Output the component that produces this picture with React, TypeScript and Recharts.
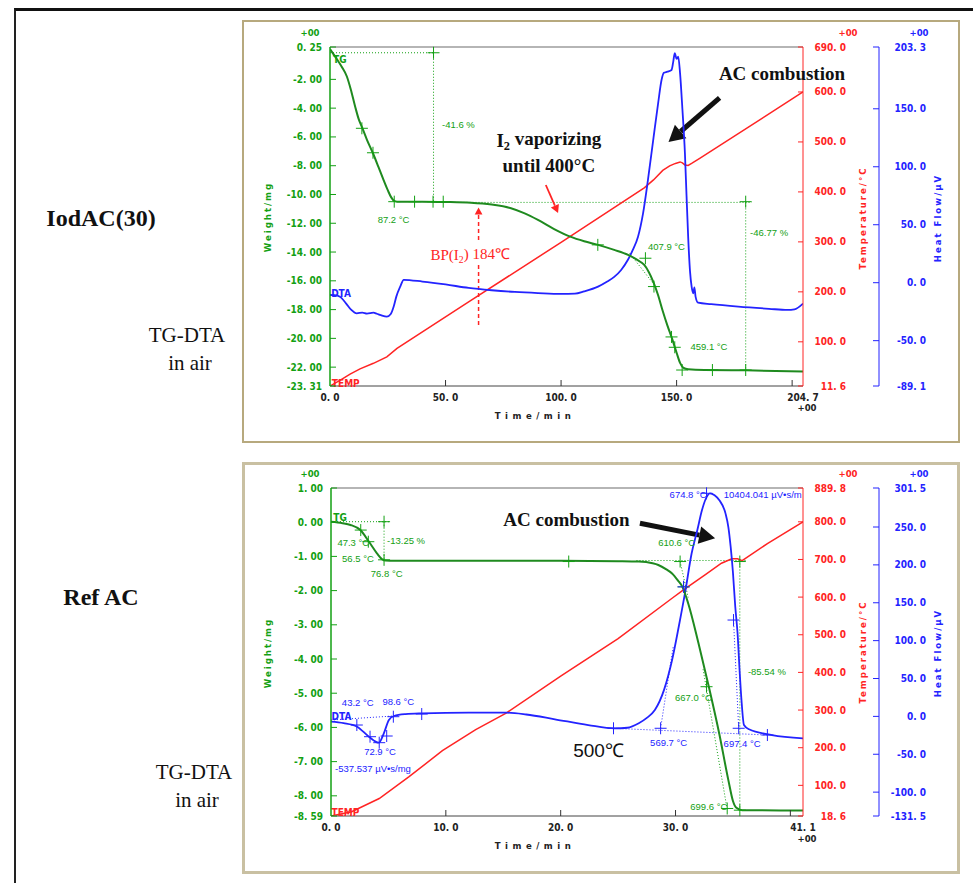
/** Two TG-DTA panels (IodAC(30) and Ref AC) with weight, temperature and heat-flow axes. */

import type { ReactNode } from 'react'
import { ComposedChart, Line, XAxis, YAxis, ReferenceLine, ReferenceDot } from 'recharts'

type Pt = [number, number]
type Note = { t: number; v: number; text: ReactNode; anchor?: 'start' | 'middle' | 'end' }

// axis ids: right axes are stacked in id order, so temperature (inner) sorts before heat flow (outer)
const W = 'w'
const TEMP = 'r1'
const HEAT = 'r2'

// ---------- IodAC(30) ----------
const IOD_TG: Pt[] = [
  [0, 0.1], [3, -0.6], [5, -1.1], [7.3, -1.8], [9, -2.7], [10.9, -3.9], [12.5, -4.8], [13.8, -5.3],
  [16, -6.2], [18.5, -7.1], [21, -8.1], [23.2, -9.0], [25, -9.7], [26.5, -10.2], [27.8, -10.45],
  [29, -10.5], [40, -10.5], [50, -10.52], [61, -10.57], [70, -10.7], [78, -10.94], [84, -11.3],
  [90, -11.77], [97, -12.4], [104, -12.93], [110, -13.25], [116, -13.5], [123, -13.85], [129, -14.2],
  [133, -14.55], [136, -14.9], [138, -15.4], [140, -16.1], [142, -17.0], [144, -18.1], [146, -19.1],
  [148, -20.0], [150, -21.0], [151.5, -21.7], [153, -22.05], [155, -22.15], [162, -22.2],
  [180, -22.22], [204.7, -22.3],
]
const IOD_TEMP: Pt[] = [
  [0, 11.6], [4.3, 23], [8.7, 35.5], [13, 46], [18.8, 57], [24.6, 70], [29, 87], [60, 180],
  [100, 299], [136, 408], [140, 424], [144, 443], [147, 452], [149.5, 457], [151.5, 460],
  [152.5, 458], [153.6, 454], [155, 453], [156.5, 457], [160, 467], [204.7, 600],
]
const IOD_DTA: Pt[] = [
  [0, -10.6], [2, -10.8], [4.3, -12.1], [7, -18], [9, -23], [11.6, -26.4], [14, -25.8], [16, -26.6],
  [18.8, -25.8], [20.3, -26.8], [22, -28], [24.6, -29.3], [26.3, -27], [27.5, -21], [28.7, -12],
  [30.4, -3.4], [31.9, 2.5], [40, 1.0], [50, -1.5], [60, -4.5], [70, -6.5], [80, -8], [90, -9],
  [100, -9.7], [106, -9.5], [110, -7.5], [116, -3.4], [120, 1], [123, 5], [126, 11], [129, 20],
  [131, 28], [133.3, 39.6], [135.5, 60], [137.6, 88.6], [140, 125], [142, 154.7], [143.5, 175],
  [144.5, 181], [146, 182], [147.8, 183.5], [148.5, 190], [149.2, 198], [150, 193], [150.7, 195],
  [151.5, 180.6], [152.5, 150], [153.6, 111.6], [154.3, 75], [155, 39.7], [155.8, 10], [156.5, -3.4],
  [157.2, -9.2], [157.7, -4], [158.2, -12], [159.3, -17.2], [165, -18.5], [176.7, -20.6],
  [190, -22.5], [198, -23.5], [201, -23], [204.7, -18],
]
const IOD_TIME_TICKS = [0, 50, 100, 150, 200, 204.7]
const IOD_W_TICKS = [0.25, -2, -4, -6, -8, -10, -12, -14, -16, -18, -20, -22, -23.31]
const IOD_T_TICKS = [690, 600, 500, 400, 300, 200, 100, 11.6]
const IOD_H_TICKS = [203.3, 150, 100, 50, 0, -50, -89.1]

const IOD_TG_CROSSES: Pt[] = [
  [44.8, -0.15], [13.8, -5.4], [18.6, -7.1], [27.8, -10.5], [36.6, -10.5], [44.6, -10.5], [49, -10.5],
  [179.9, -10.5], [115.9, -13.5], [136.5, -14.43], [140.2, -16.4], [147.8, -19.9], [149.2, -20.62],
  [152.4, -22.2], [165.5, -22.2], [179.9, -22.2],
]
const IOD_TG_GUIDES: [Pt, Pt][] = [
  [[0, -0.15], [44.8, -0.15]], [[44.8, -0.15], [44.8, -10.5]], [[44.8, -10.55], [182.5, -10.55]],
  [[179.9, -10.55], [179.9, -22.2]], [[129.7, -14.09], [139.8, -16.17]],
]
const IOD_TG_NOTES: Note[] = [
  { t: 48.5, v: -5.17, text: '-41.6 %', anchor: 'start' },
  { t: 27.5, v: -11.72, text: '87.2 °C' },
  { t: 181.8, v: -12.65, text: '-46.77 %', anchor: 'start' },
  { t: 145.6, v: -13.63, text: '407.9 °C' },
  { t: 164, v: -20.58, text: '459.1 °C' },
]

// ---------- Ref AC ----------
const REF_TG: Pt[] = [
  [0, 0.01], [1, -0.03], [1.7, -0.08], [2.56, -0.23], [3.3, -0.57], [4.0, -0.91], [4.46, -1.085],
  [4.75, -1.12], [5.5, -1.13], [10, -1.13], [20, -1.13], [25, -1.14], [26.8, -1.15], [28, -1.2],
  [28.5, -1.25], [29.2, -1.38], [29.7, -1.5], [30.2, -1.7], [30.6, -1.89], [31.1, -2.37], [32, -3.54],
  [32.9, -4.81], [33.8, -6.17], [34.6, -7.54], [35, -8.15], [35.3, -8.35], [35.8, -8.42], [41.1, -8.43],
]
const REF_TEMP: Pt[] = [
  [0, 18.6], [1.8, 30], [4.2, 65], [6.8, 123], [9.7, 192], [12.6, 248], [15.25, 292], [20, 390],
  [25, 490], [29.7, 597], [30.6, 617], [32.6, 660], [34, 690], [34.9, 702], [35.4, 702], [35.8, 697],
  [38, 742], [41.1, 800],
]
const REF_DTA: Pt[] = [
  [0, -7], [1.1, -9], [2.27, -13.6], [3.3, -26.8], [4.16, -34.7], [4.6, -22.3], [5.04, -4.8],
  [5.48, 0.5], [6.5, 3], [7.96, 4], [12, 5], [15.25, 4.9], [17, 2.5], [19.5, -3.8], [22.4, -11.4],
  [24.7, -15.8], [25.8, -15], [26.8, -9.1], [27.5, -2], [28.2, 8.4], [29, 35], [29.7, 74.4],
  [30.3, 120], [30.85, 165], [31.4, 215], [31.9, 246], [32.3, 272], [32.6, 286], [33, 294.5],
  [33.4, 292], [33.8, 285.7], [34.35, 268], [34.6, 250], [34.8, 224], [35, 190], [35.2, 145],
  [35.4, 110], [35.6, 55], [35.75, 20], [35.96, -11.4], [36.4, -17], [38.4, -24.6], [41.1, -28.9],
]
const REF_TIME_TICKS = [0, 10, 20, 30, 40, 41.1]
const REF_W_TICKS = [1, 0, -1, -2, -3, -4, -5, -6, -7, -8, -8.59]
const REF_T_TICKS = [889.8, 800, 700, 600, 500, 400, 300, 200, 100, 18.6]
const REF_H_TICKS = [301.5, 250, 200, 150, 100, 50, 0, -50, -100, -131.5]

const REF_TG_CROSSES: Pt[] = [
  [2.59, -0.23], [3.25, -0.57], [4.62, 0.015], [4.62, -1.1], [20.7, -1.15], [30.4, -1.15],
  [35.6, -1.15], [30.7, -1.89], [32.7, -4.81], [34.5, -8.37], [35.6, -8.42],
]
const REF_TG_GUIDES: [Pt, Pt][] = [
  [[0, 0.015], [5.1, 0.015]], [[4.62, 0.015], [4.62, -1.12]], [[26.6, -1.12], [36.2, -1.12]],
  [[35.6, -1.12], [35.6, -8.42]], [[30.4, -1.15], [31.1, -2.2]], [[32.4, -4.3], [34.5, -8.4]],
]
const REF_TG_NOTES: Note[] = [
  { t: 1.94, v: -0.6, text: '47.3 °C' },
  { t: 2.35, v: -1.08, text: '56.5 °C' },
  { t: 4.85, v: -1.51, text: '76.8 °C' },
  { t: 4.88, v: -0.55, text: '-13.25 %', anchor: 'start' },
  { t: 30.1, v: -0.6, text: '610.6 °C' },
  { t: 31.56, v: -5.13, text: '667.0 °C' },
  { t: 32.9, v: -8.32, text: '699.6 °C' },
  { t: 36.3, v: -4.37, text: '-85.54 %', anchor: 'start' },
]
const REF_DTA_CROSSES: Pt[] = [
  [2.25, -11.4], [3.4, -26.8], [4.2, -34.7], [4.85, -25.9], [5.43, -0.4], [7.9, 3.1], [24.6, -15.7],
  [28.7, -15.7], [30.7, 171], [32.7, 294.5], [35.05, 127.2], [35.5, -15.7], [38.0, -24.6],
]
const REF_DTA_GUIDES: [Pt, Pt][] = [
  [[0, -4.8], [5.4, 0.5]], [[24.6, -15.7], [38.0, -24.6]], [[28.7, -15.7], [29.8, 92]],
  [[35.05, 127], [35.5, -15.7]],
]
const REF_DTA_NOTES: Note[] = [
  { t: 2.33, v: 18.1, text: '43.2 °C' },
  { t: 5.86, v: 19.4, text: '98.6 °C' },
  { t: 4.27, v: -46.6, text: '72.9 °C' },
  { t: 0.35, v: -69.5, text: '-537.537  µV•s/mg', anchor: 'start' },
  { t: 31.1, v: 292.3, text: '674.8 °C' },
  { t: 34.2, v: 292.3, text: '10404.041  µV•s/m', anchor: 'start' },
  { t: 29.4, v: -34.7, text: '569.7 °C' },
  { t: 35.8, v: -35.5, text: '697.4 °C' },
]

const GREEN = '#13a013'
const TG_LINE = '#1f8a1f'
const RED = '#ff2424'
const BLUE = '#2323ff'
const FRAME = '#b7a97e'

const TICK_FONT = '"Liberation Sans Narrow", "DejaVu Sans Condensed", "Liberation Sans", sans-serif'
const NOTE_FONT = '"Liberation Sans", Arial, sans-serif'
const SERIF = '"Liberation Serif", "Times New Roman", serif'

const tickStyle = { fontFamily: TICK_FONT, fontSize: 10, fontWeight: 700 }
const noteStyle = { fontFamily: NOTE_FONT, fontSize: 9.5 }
const bigStyle = { fontFamily: SERIF, fontSize: 19, fontWeight: 700 }

// "0.25" -> "0. 25" like the instrument software
const fmt = (digits: number) => (v: number) => v.toFixed(digits).replace('.', '. ')

const rows = (pts: Pt[], key: string) => pts.map(([t, v]) => ({ t, [key]: v }))

function leftTick(format: (v: number) => string) {
  return (p: any) => (
    <g>
      <line x1={p.x + 8} x2={p.x + 14} y1={p.y} y2={p.y} stroke={GREEN} />
      <text x={p.x} y={p.y} dy="0.35em" textAnchor="end" fill={GREEN} style={tickStyle}>
        {format(p.payload.value)}
      </text>
    </g>
  )
}
function tempTick(p: any) {
  return (
    <g>
      <line x1={p.x - 21} x2={p.x - 16} y1={p.y} y2={p.y} stroke={RED} />
      <text x={p.x + 27} y={p.y} dy="0.35em" textAnchor="end" fill={RED} style={tickStyle}>
        {fmt(1)(p.payload.value)}
      </text>
    </g>
  )
}
function heatTick(p: any) {
  return (
    <g>
      <line x1={p.x - 10} x2={p.x - 4} y1={p.y} y2={p.y} stroke={BLUE} />
      <text x={p.x + 43} y={p.y} dy="0.35em" textAnchor="end" fill={BLUE} style={tickStyle}>
        {fmt(1)(p.payload.value)}
      </text>
    </g>
  )
}
function timeTick(ticks: number[], hidden: number) {
  return (p: any) => {
    const v = p.payload.value
    const inner = v !== ticks[0] && v !== ticks[ticks.length - 1]
    return (
      <g>
        {inner && <line x1={p.x} x2={p.x} y1={p.y - 8} y2={p.y - 14} stroke="#333" />}
        {v !== hidden && (
          <text x={p.x} y={p.y + 3} dy="0.35em" textAnchor="middle" fill="#222" style={tickStyle}>
            {fmt(1)(v)}
          </text>
        )}
      </g>
    )
  }
}

const crossShape = (color: string) => (p: any) => (
  <g stroke={color} strokeWidth={1}>
    <line x1={p.cx - 6} x2={p.cx + 6} y1={p.cy} y2={p.cy} />
    <line x1={p.cx} x2={p.cx} y1={p.cy - 6} y2={p.cy + 6} />
  </g>
)
const textShape = (n: Note, color: string, style: object) => (p: any) => (
  <text x={p.cx} y={p.cy} dy="0.35em" textAnchor={n.anchor ?? 'middle'} fill={color} style={style}>
    {n.text}
  </text>
)
const arrowShape = (color: string, width: number, head: number, dash?: string) => (p: any) => {
  const { x1, y1, x2, y2 } = p
  const a = Math.atan2(y2 - y1, x2 - x1)
  const bx = x2 - head * Math.cos(a)
  const by = y2 - head * Math.sin(a)
  const w = head * 0.55
  const pts = `${x2},${y2} ${bx + w * Math.sin(a)},${by - w * Math.cos(a)} ${bx - w * Math.sin(a)},${by + w * Math.cos(a)}`
  return (
    <g>
      <line x1={x1} y1={y1} x2={bx} y2={by} stroke={color} strokeWidth={width} strokeDasharray={dash} />
      <polygon points={pts} fill={color} />
    </g>
  )
}

function crosses(pts: Pt[], axis: string, color: string, key: string) {
  return pts.map(([t, v], i) => (
    <ReferenceDot key={`${key}c${i}`} x={t} y={v} yAxisId={axis} r={1} ifOverflow="visible" shape={crossShape(color)} />
  ))
}
function guides(segs: [Pt, Pt][], axis: string, color: string, key: string) {
  return segs.map(([a, b], i) => (
    <ReferenceLine
      key={`${key}g${i}`}
      yAxisId={axis}
      segment={[{ x: a[0], y: a[1] }, { x: b[0], y: b[1] }]}
      stroke={color}
      strokeDasharray="1 2"
      ifOverflow="visible"
    />
  ))
}
function notes(list: Note[], axis: string, color: string, style: object, key: string) {
  return list.map((n, i) => (
    <ReferenceDot key={`${key}n${i}`} x={n.t} y={n.v} yAxisId={axis} r={1} ifOverflow="visible" shape={textShape(n, color, style)} />
  ))
}
function arrow(a: Pt, b: Pt, axis: string, color: string, width: number, head: number, key: string, dash?: string) {
  return (
    <ReferenceLine
      key={key}
      yAxisId={axis}
      segment={[{ x: a[0], y: a[1] }, { x: b[0], y: b[1] }]}
      ifOverflow="visible"
      shape={arrowShape(color, width, head, dash)}
    />
  )
}

interface PanelProps {
  width: number
  height: number
  top: number
  leftWidth: number
  xHeight: number
  tTicks: number[]
  tHidden: number
  wTicks: number[]
  wDigits: number
  tempTicks: number[]
  heatTicks: number[]
  tg: Pt[]
  temp: Pt[]
  dta: Pt[]
  extras: ReactNode[]
}

function TgDtaChart(p: PanelProps) {
  const wMax = p.wTicks[0]
  return (
    <ComposedChart width={p.width} height={p.height} margin={{ top: p.top, right: 0, left: 0, bottom: 0 }}>
      <XAxis
        type="number"
        dataKey="t"
        domain={[p.tTicks[0], p.tTicks[p.tTicks.length - 1]]}
        ticks={p.tTicks}
        interval={0}
        allowDataOverflow
        height={p.xHeight}
        tickSize={0}
        tickMargin={8}
        tickLine={false}
        axisLine={{ stroke: '#444' }}
        tick={timeTick(p.tTicks, p.tHidden)}
      />
      <YAxis
        yAxisId={W}
        type="number"
        domain={[p.wTicks[p.wTicks.length - 1], wMax]}
        ticks={p.wTicks}
        interval={0}
        allowDataOverflow
        width={p.leftWidth}
        tickSize={0}
        tickMargin={8}
        tickLine={false}
        axisLine={{ stroke: GREEN, strokeWidth: 1.5 }}
        tick={leftTick(fmt(p.wDigits))}
      />
      <YAxis
        yAxisId={TEMP}
        orientation="right"
        type="number"
        domain={[p.tempTicks[p.tempTicks.length - 1], p.tempTicks[0]]}
        ticks={p.tempTicks}
        interval={0}
        allowDataOverflow
        width={76}
        tickSize={0}
        tickMargin={16}
        tickLine={false}
        axisLine={{ stroke: RED }}
        tick={tempTick}
      />
      <YAxis
        yAxisId={HEAT}
        orientation="right"
        type="number"
        domain={[p.heatTicks[p.heatTicks.length - 1], p.heatTicks[0]]}
        ticks={p.heatTicks}
        interval={0}
        allowDataOverflow
        width={81}
        tickSize={0}
        tickMargin={4}
        tickLine={false}
        axisLine={{ stroke: BLUE }}
        tick={heatTick}
      />
      <ReferenceLine yAxisId={W} y={wMax} stroke="#9c9c9c" strokeWidth={1.5} />
      {p.extras}
      <Line data={rows(p.temp, 'T')} dataKey="T" yAxisId={TEMP} type="linear" stroke={RED} strokeWidth={1.5} dot={false} isAnimationActive={false} />
      <Line data={rows(p.dta, 'H')} dataKey="H" yAxisId={HEAT} type="monotone" stroke={BLUE} strokeWidth={1.8} dot={false} isAnimationActive={false} />
      <Line data={rows(p.tg, 'w')} dataKey="w" yAxisId={W} type="monotone" stroke={TG_LINE} strokeWidth={2} dot={false} isAnimationActive={false} />
    </ComposedChart>
  )
}

const sub2 = (
  <tspan fontSize="0.65em" dy="0.3em">
    2
  </tspan>
)

const iodExtras: ReactNode[] = [
  ...guides(IOD_TG_GUIDES, W, GREEN, 'iod'),
  ...crosses(IOD_TG_CROSSES, W, GREEN, 'iod'),
  ...notes(IOD_TG_NOTES, W, GREEN, noteStyle, 'iod'),
  ...notes([{ t: 1.3, v: -0.6, text: 'TG', anchor: 'start' }], W, GREEN, tickStyle, 'iodtg'),
  ...notes([{ t: 0.5, v: -9.7, text: 'DTA', anchor: 'start' }], HEAT, BLUE, tickStyle, 'ioddta'),
  ...notes([{ t: 0.8, v: 17.6, text: 'TEMP', anchor: 'start' }], TEMP, RED, tickStyle, 'iodtemp'),
  <ReferenceLine key="bpdash" yAxisId={W} segment={[{ x: 64.3, y: -19.07 }, { x: 64.3, y: -14.9 }]} stroke={RED} strokeWidth={1.5} strokeDasharray="4 3" />,
  arrow([64.3, -13.16], [64.3, -10.9], W, RED, 1.5, 7, 'bparrow', '4 3'),
  ...notes(
    [{ t: 43.5, v: -14.2, anchor: 'start', text: <>BP(I{sub2}<tspan dy="-0.3em">) 184℃</tspan></> }],
    W, RED, { fontFamily: SERIF, fontSize: 15 }, 'bp',
  ),
  arrow([93.4, -9.34], [98.7, -11.29], W, RED, 1.8, 8, 'redarrow'),
  arrow([168.6, -3.29], [146.5, -6.35], W, '#111', 5, 16, 'blackarrow'),
  ...notes(
    [
      { t: 195.6, v: -1.6, text: 'AC combustion' },
      { t: 94.7, v: -6.21, text: <>I{sub2}<tspan dy="-0.3em"> vaporizing</tspan></> },
      { t: 94.7, v: -7.95, text: 'until 400°C' },
    ],
    W, '#111', bigStyle, 'iodbig',
  ),
]

const refExtras: ReactNode[] = [
  ...guides(REF_TG_GUIDES, W, GREEN, 'ref'),
  ...guides(REF_DTA_GUIDES, HEAT, BLUE, 'refd'),
  ...crosses(REF_TG_CROSSES, W, GREEN, 'ref'),
  ...crosses(REF_DTA_CROSSES, HEAT, BLUE, 'refd'),
  ...notes(REF_TG_NOTES, W, GREEN, noteStyle, 'ref'),
  ...notes(REF_DTA_NOTES, HEAT, BLUE, noteStyle, 'refd'),
  ...notes([{ t: 0.2, v: 0.15, text: 'TG', anchor: 'start' }], W, GREEN, tickStyle, 'reftg'),
  ...notes([{ t: 0.05, v: 0.5, text: 'DTA', anchor: 'start' }], HEAT, BLUE, tickStyle, 'refdta'),
  ...notes([{ t: 0.05, v: 27.4, text: 'TEMP', anchor: 'start' }], TEMP, RED, tickStyle, 'reftemp'),
  arrow([26.9, -0.03], [33.45, -0.47], W, '#111', 5, 16, 'refarrow'),
  ...notes([{ t: 20.5, v: 0.085, text: 'AC combustion' }], W, '#111', bigStyle, 'refbig'),
  ...notes([{ t: 23.3, v: -44.4, text: '500℃' }], HEAT, '#111', { fontFamily: NOTE_FONT, fontSize: 19 }, 'ref500'),
]

const abs = (left: number, top: number, extra: object = {}) => ({ position: 'absolute' as const, left, top, ...extra })

function Tag({ x, y, color, text, rotate, spacing = 2 }: { x: number; y: number; color: string; text: string; rotate?: boolean; spacing?: number }) {
  return (
    <div
      style={abs(x, y, {
        transform: `translate(-50%, -50%)${rotate ? ' rotate(-90deg)' : ''}`,
        color,
        whiteSpace: 'nowrap',
        fontFamily: TICK_FONT,
        fontSize: 9.5,
        fontWeight: 700,
        letterSpacing: spacing,
        lineHeight: 1,
      })}
    >
      {text}
    </div>
  )
}

function SideText({ x, y, text, bold }: { x: number; y: number; text: string; bold?: boolean }) {
  return (
    <div
      style={abs(x, y, {
        transform: 'translate(-50%, -50%)',
        fontFamily: SERIF,
        fontSize: bold ? 24 : 21,
        fontWeight: bold ? 700 : 400,
        whiteSpace: 'nowrap',
        lineHeight: 1,
        color: '#111',
      })}
    >
      {text}
    </div>
  )
}

export default function App() {
  return (
    <div style={abs(0, 0, { width: 973, height: 883, background: '#fff', overflow: 'hidden' })}>
      <div style={abs(14, 8, { width: 970, height: 890, borderTop: '3px solid #111', borderLeft: '2px solid #222' })} />

      <div style={abs(242, 20, { width: 718, height: 423, border: `2px solid ${FRAME}`, boxSizing: 'border-box' })} />
      <div style={abs(242, 462, { width: 718, height: 412, border: `3px solid #c9c0a2`, boxSizing: 'border-box' })} />

      <SideText x={101} y={218} text="IodAC(30)" bold />
      <SideText x={187} y={335} text="TG-DTA" />
      <SideText x={190} y={363} text="in air" />
      <SideText x={101} y={597} text="Ref AC" bold />
      <SideText x={194} y={772} text="TG-DTA" />
      <SideText x={197} y={800} text="in air" />

      <div style={abs(242, 20)}>
        <TgDtaChart
          width={718}
          height={423}
          top={27}
          leftWidth={88}
          xHeight={57}
          tTicks={IOD_TIME_TICKS}
          tHidden={200}
          wTicks={IOD_W_TICKS}
          wDigits={2}
          tempTicks={IOD_T_TICKS}
          heatTicks={IOD_H_TICKS}
          tg={IOD_TG}
          temp={IOD_TEMP}
          dta={IOD_DTA}
          extras={iodExtras}
        />
      </div>
      <div style={abs(242, 462)}>
        <TgDtaChart
          width={718}
          height={412}
          top={26}
          leftWidth={89}
          xHeight={58}
          tTicks={REF_TIME_TICKS}
          tHidden={40}
          wTicks={REF_W_TICKS}
          wDigits={2}
          tempTicks={REF_T_TICKS}
          heatTicks={REF_H_TICKS}
          tg={REF_TG}
          temp={REF_TEMP}
          dta={REF_DTA}
          extras={refExtras}
        />
      </div>

      {/* axis titles and exponent marks */}
      <Tag x={310} y={33} color={GREEN} text="+00" spacing={0} />
      <Tag x={848} y={33} color={RED} text="+00" spacing={0} />
      <Tag x={919} y={33} color={BLUE} text="+00" spacing={0} />
      <Tag x={807} y={408} color="#222" text="+00" spacing={0} />
      <Tag x={268} y={217} color={GREEN} text="Weight/mg" rotate />
      <Tag x={863} y={218} color={RED} text="Temperature/°C" rotate />
      <Tag x={938} y={218} color={BLUE} text="Heat Flow/µV" rotate />
      <Tag x={535} y={416} color="#222" text="Time/min" spacing={4.5} />

      <Tag x={310} y={474} color={GREEN} text="+00" spacing={0} />
      <Tag x={848} y={474} color={RED} text="+00" spacing={0} />
      <Tag x={919} y={474} color={BLUE} text="+00" spacing={0} />
      <Tag x={807} y={839} color="#222" text="+00" spacing={0} />
      <Tag x={268} y={653} color={GREEN} text="Weight/mg" rotate />
      <Tag x={863} y={652} color={RED} text="Temperature/°C" rotate />
      <Tag x={938} y={653} color={BLUE} text="Heat Flow/µV" rotate />
      <Tag x={535} y={846} color="#222" text="Time/min" spacing={4.5} />
    </div>
  )
}
